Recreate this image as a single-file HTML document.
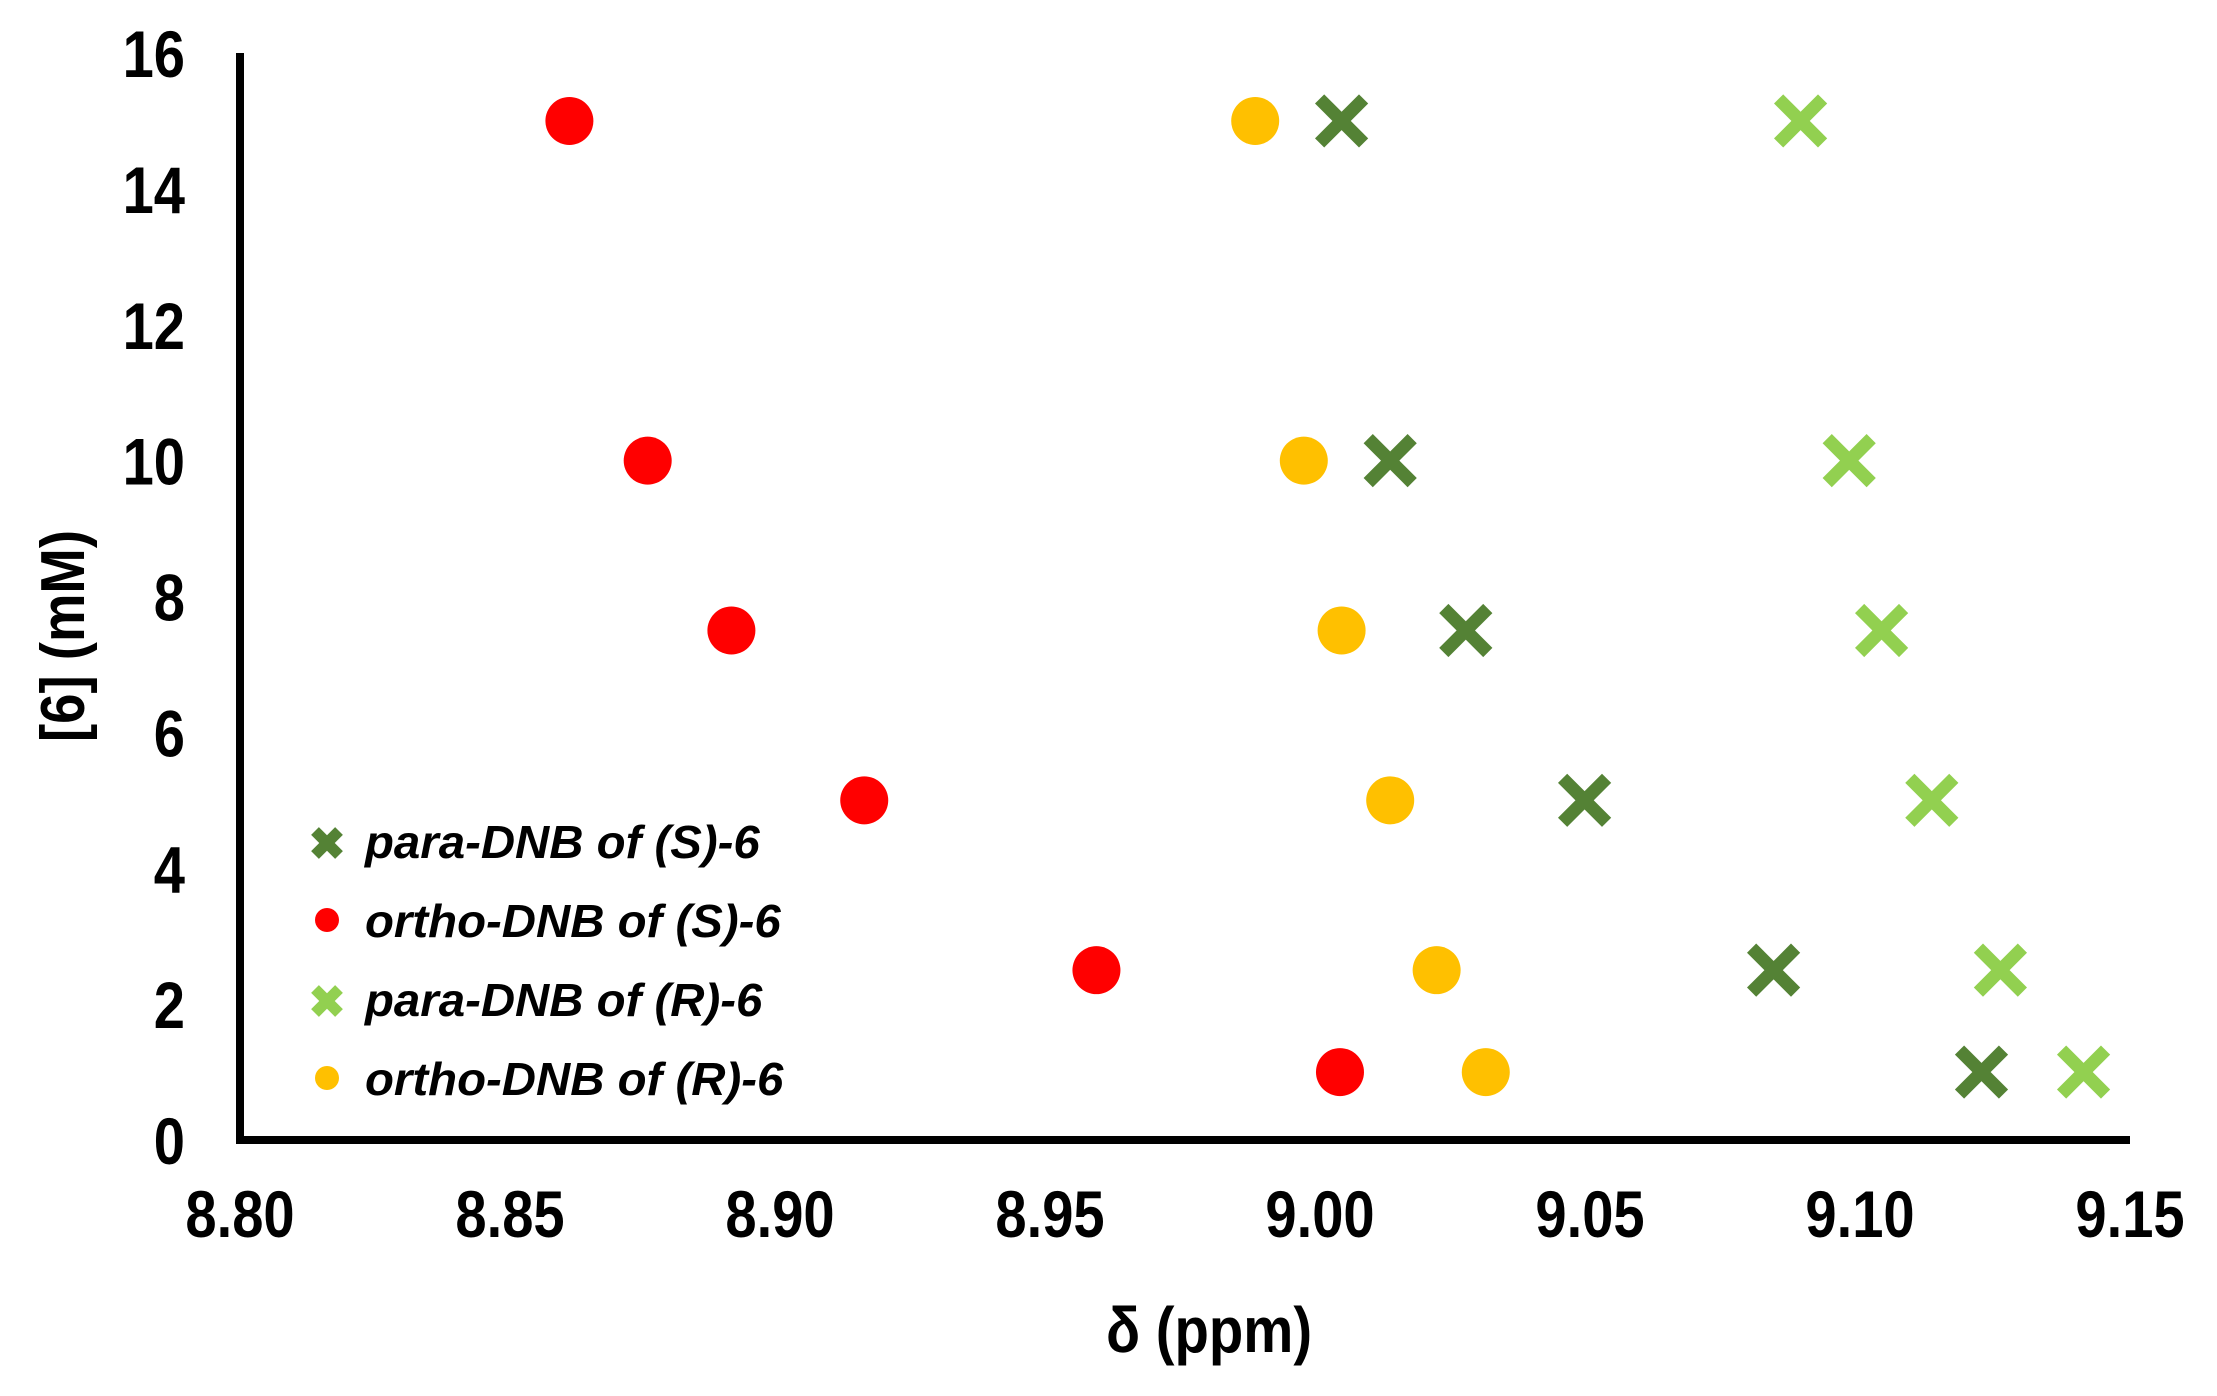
<!DOCTYPE html>
<html><head><meta charset="utf-8"><style>
html,body{margin:0;padding:0;background:#fff;}
svg{display:block;font-family:"Liberation Sans",sans-serif;}
</style></head><body>
<svg id="chart" width="2217" height="1396" viewBox="0 0 2217 1396" xmlns="http://www.w3.org/2000/svg">
<g id="axes"></g><g id="marks"></g><g id="legend"></g>
</svg>
<script>
const xTicks = [8.80, 8.85, 8.90, 8.95, 9.00, 9.05, 9.10, 9.15];
const yTicks = [0, 2, 4, 6, 8, 10, 12, 14, 16];
const concentrations = [15, 10, 7.5, 5, 2.5, 1];
const paraS = [9.004, 9.013, 9.027, 9.049, 9.084, 9.1225];
const orthoS = [8.861, 8.8755, 8.891, 8.9156, 8.9586, 9.0037];
const paraR = [9.089, 9.098, 9.104, 9.1133, 9.126, 9.1414];
const orthoR = [8.988, 8.997, 9.004, 9.013, 9.0216, 9.0307];

const NS = 'http://www.w3.org/2000/svg';
const X0 = 240, X1 = 2130, Y0 = 1140, Y1 = 53;
function xs(v){ return X0 + (v - 8.80) / 0.35 * (X1 - X0); }
function ys(v){ return Y0 - v / 16 * (Y0 - Y1); }
function mk(tag, attrs, parent){
  const e = document.createElementNS(NS, tag);
  for (const k in attrs) e.setAttribute(k, attrs[k]);
  parent.appendChild(e);
  return e;
}
const axes = document.getElementById('axes');
const marks = document.getElementById('marks');
const legend = document.getElementById('legend');

const yAxis = mk('line', {x1:X0, y1:Y1, x2:X0, y2:Y0+4, stroke:'#000', 'stroke-width':8}, axes);


const xAxis = mk('line', {x1:X0-4, y1:Y0, x2:X1, y2:Y0, stroke:'#000', 'stroke-width':8}, axes);



yTicks.forEach(v => {
  const g = mk('g', {transform:`translate(185,${ys(v)+24}) scale(0.85,1)`}, axes);
  const t = mk('text', {x:0, y:0, 'text-anchor':'end', 'font-size':66, 'font-weight':'bold', fill:'#000'}, g);
  t.textContent = String(v);
  
  
});
xTicks.forEach(v => {
  const g = mk('g', {transform:`translate(${xs(v)},1237) scale(0.85,1)`}, axes);
  const t = mk('text', {x:0, y:0, 'text-anchor':'middle', 'font-size':66, 'font-weight':'bold', fill:'#000'}, g);
  t.textContent = v.toFixed(2);
  
  
});
const xt = mk('g', {transform:'translate(1209,1352) scale(0.88,1)'}, axes);
const xTitle = mk('text', {x:0, y:0, 'text-anchor':'middle', 'font-size':64, 'font-weight':'bold', fill:'#000', 'xml:space':'preserve'}, xt);
xTitle.textContent = 'δ  (ppm)';


const yt = mk('g', {transform:'translate(84,636) rotate(-90) scale(0.88,1)'}, axes);
const yTitle = mk('text', {x:0, y:0, 'text-anchor':'middle', 'font-size':62, 'font-weight':'bold', fill:'#000'}, yt);
yTitle.textContent = '[6] (mM)';



const DARK = '#548235', LIGHT = '#92D050', RED = '#FF0000', ORANGE = '#FFC000';
function cross(cx, cy, col, s, w, parent, name){
  const g = mk('g', {stroke:col, 'stroke-width':w}, parent);
  mk('line', {x1:cx-s, y1:cy-s, x2:cx+s, y2:cy+s}, g);
  mk('line', {x1:cx-s, y1:cy+s, x2:cx+s, y2:cy-s}, g);
  
  
  return g;
}
function dot(cx, cy, col, r, parent, name){
  const c = mk('circle', {cx:cx, cy:cy, r:r, fill:col}, parent);
  
  
  return c;
}
concentrations.forEach((c, i) => {
  dot(xs(orthoS[i]), ys(c), RED, 24, marks, 'point-ortho-s');
  dot(xs(orthoR[i]), ys(c), ORANGE, 24, marks, 'point-ortho-r');
  cross(xs(paraS[i]), ys(c), DARK, 22, 13, marks, 'point-para-s');
  cross(xs(paraR[i]), ys(c), LIGHT, 22, 13, marks, 'point-para-r');
});

const legItems = [
  ['cross', DARK, 'para-DNB of ', 'S', 'legend-entry-para-s'],
  ['dot', RED, 'ortho-DNB of ', 'S', 'legend-entry-ortho-s'],
  ['cross', LIGHT, 'para-DNB of ', 'R', 'legend-entry-para-r'],
  ['dot', ORANGE, 'ortho-DNB of ', 'R', 'legend-entry-ortho-r']
];
const legRows = [843, 922, 1001, 1080];
legItems.forEach((it, i) => {
  const cy = legRows[i];
  const g = mk('g', {}, legend);
  
  
  if (it[0] === 'cross') cross(327, cy, it[1], 12, 11, g, 'legend-marker');
  else dot(327, cy - 2, it[1], 12, g, 'legend-marker');
  const tg = mk('g', {transform:`translate(365,${cy+15}) scale(1.03,1)`}, g);
  const t = mk('text', {x:0, y:0, 'font-size':46, 'font-weight':'bold', 'font-style':'italic', fill:'#000'}, tg);
  t.textContent = it[2] + '(' + it[3] + ')-6';
  
  
});
</script>
</body></html>
